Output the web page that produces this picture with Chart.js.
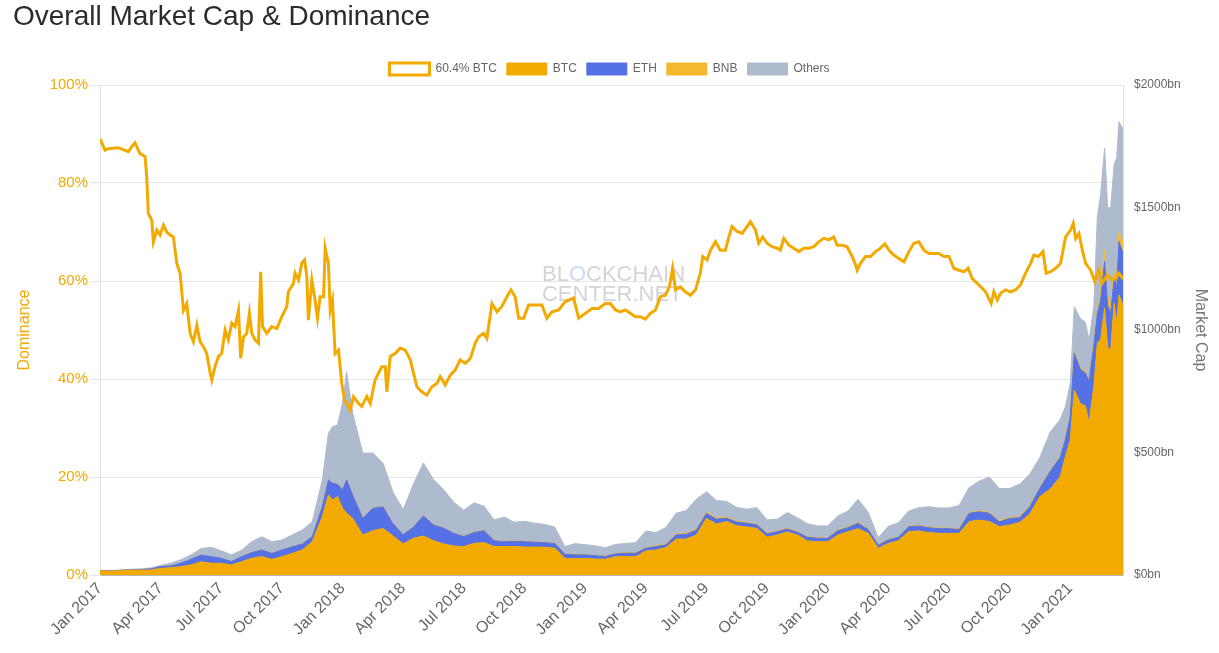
<!DOCTYPE html>
<html><head><meta charset="utf-8">
<script src="https://cdn.jsdelivr.net/npm/chart.js@4.4.1/dist/chart.umd.min.js"></script>
<style>
html,body{margin:0;padding:0;background:#fff;}
#wrap{position:relative;width:1219px;height:653px;overflow:hidden;}
#title{position:absolute;left:13px;top:1px;margin:0;font:normal 28px/30px "Liberation Sans",Arial,sans-serif;color:#2b2b2b;white-space:nowrap;}
canvas{position:absolute;left:0;top:0;}
</style></head><body>
<div id="wrap"><canvas id="c" width="1219" height="653" style="width:1219px;height:653px"></canvas><h1 id="title">Overall Market Cap &amp; Dominance</h1></div>
<script>
// time values are months since 2017-01-01
const capMonths = [0,0.5,1,1.5,2,2.5,3,3.5,4,4.5,5,5.5,6,6.5,7,7.5,8,8.5,9,9.5,10,10.5,11,
  11.3,11.5,11.75,12,12.2,12.5,
  13,13.5,14,14.5,15,15.5,16,16.5,17,17.5,
  18,18.5,19,19.5,20,20.5,21,21.5,22,22.5,
  23,23.5,24,24.5,25,25.5,26,26.5,27,27.5,
  28,28.5,29,29.5,30,30.5,31,31.5,32,32.5,
  33,33.5,34,34.5,35,35.5,36,36.5,37,37.5,
  38,38.5,39,39.5,40,40.5,41,41.5,42,42.5,
  43,43.5,44,44.5,45,45.5,46,46.5,47,47.5,
  47.75,48,48.2,48.5,48.75,48.93,49.17,49.34,49.5,49.7,49.85,50,50.17,50.3,50.41,50.61];
// market caps in $bn
const btcCap = [17,15,18,20,20,20,27,30,34,41,54,48,48,41,54,68,75,64,75,88,102,136,238,
  327,306,320,272,252,231,
  163,181,190,159,127,150,159,140,127,118,
  116,129,132,116,116,116,114,114,113,109,
  68,67,67,65,64,75,75,75,98,102,
  112,146,147,163,231,208,218,201,196,190,
  154,163,176,163,139,136,136,163,177,189,
  170,109,129,140,177,180,173,170,170,170,
  218,224,218,197,204,214,249,320,350,400,
  480,550,755,700,690,620,770,946,960,1090,930,918,1109,1027,1143,1100];
const ethCap = [1,1,1,1.5,2,5,7,7,14,23,27,27,20,14,20,23,27,24,27,27,24,20,41,
  61,68,50,75,136,95,
  68,91,88,49,37,45,82,64,64,52,
  41,44,49,24,20,22,22,20,19,20,
  16,15,15,14,12,11,14,14,11,14,
  11,18,19,20,20,20,14,15,15,15,
  14,14,12,12,15,14,14,18,16,22,
  16,12,14,14,20,20,20,19,19,16,
  34,34,34,20,27,20,30,34,72,80,
  70,95,150,140,135,170,170,120,160,190,170,150,100,150,218,215];
const bnbCap = [0,0,0,0,0,0,0,0,0,0,0,0,0,0.1,0.1,0.2,0.2,0.2,0.2,0.2,0.2,0.2,0.3,
  0.5,0.7,1,1.5,2,2,
  1.5,1.5,1.5,1.5,1.5,1.5,1.5,1.5,1.5,1.5,
  1.5,1.5,1.5,1.5,1.5,1.5,1.5,1.5,1.5,1.5,
  1.2,1,1,1,1.5,1.5,2,2,2.5,3,
  3.5,4,4,4.5,5,5,4.5,4,3.5,3,
  3,3,3,3,2.5,2.5,2.5,3,3,3,
  3,2,2,2.5,2.5,2.5,2.5,2.5,2.5,3,
  3,3.5,4,4,4,4,4,4,4.5,5,
  5,6,7,7,7,7,10,16,30,47,40,30,25,27,40,40];
const otherCap = [1.5,1.5,1.5,2,2.5,4,5,11,14,18,27,38,31,27,27,45,54,48,41,48,57,61,109,
  190,231,240,354,440,333,
  265,224,177,128,102,173,215,184,156,125,
  106,120,98,84,99,76,82,76,73,65,
  31,45,41,39,34,37,38,41,68,54,
  68,84,93,122,84,71,64,56,54,67,
  54,48,64,56,53,48,48,57,65,95,
  68,29,54,57,61,72,83,82,82,95,
  102,122,143,132,118,133,129,122,156,150,
  130,130,183,200,200,160,150,380,400,415,360,400,440,500,449,465];

const domMonths = [
  0,0.25,0.41,0.91,1.40,1.57,1.73,1.98,2.23,2.31,
  2.39,2.56,2.64,2.81,2.97,3.14,3.30,3.47,3.63,3.80,
  3.96,4.13,4.29,4.46,4.62,4.79,4.95,5.12,5.28,5.45,
  5.53,5.69,5.86,6.02,6.19,6.35,6.52,6.68,6.85,6.96,
  7.10,7.26,7.39,7.51,7.67,7.84,7.95,8.04,8.25,8.50,
  8.75,8.99,9.24,9.32,9.57,9.65,9.82,9.98,10.12,10.23,
  10.31,10.48,10.64,10.76,10.89,11.06,11.14,11.30,11.39,11.50,
  11.63,11.80,11.96,12.10,12.29,12.38,
  12.54,12.79,12.95,13.20,13.37,13.61,13.78,13.94,14.11,14.19,
  14.36,14.60,14.85,15.10,15.35,15.51,15.68,15.92,16.17,16.42,
  16.67,16.83,17.08,17.33,17.57,17.82,18.07,18.32,18.56,18.73,
  18.98,19.14,19.39,19.64,19.88,20.13,20.33,20.54,20.71,20.96,
  21.20,21.53,21.86,22.11,22.36,22.69,23.02,23.43,23.68,24.01,
  24.34,24.67,25.00,
  25.25,25.50,25.74,25.99,26.24,26.49,26.73,26.98,27.23,27.48,
  27.72,27.97,28.17,28.33,28.47,28.71,28.96,29.21,29.46,29.70,
  29.82,30.03,30.20,30.45,30.69,30.94,31.11,31.27,31.52,31.77,
  32.01,32.18,32.43,32.59,32.79,33.00,33.25,33.50,33.66,33.83,
  34.08,34.32,34.57,34.82,35.07,35.31,35.56,35.81,36.06,36.30,
  36.47,36.72,36.96,37.21,37.38,
  37.46,37.62,37.87,38.12,38.37,38.61,38.83,39.03,39.27,39.52,
  39.77,40.02,40.26,40.51,40.76,41.01,41.25,41.50,41.75,42.00,
  42.24,42.49,42.74,42.95,43.15,43.40,43.65,43.81,44.09,44.22,
  44.39,44.55,44.80,45.05,45.30,45.54,45.79,46.04,46.20,46.42,
  46.65,46.81,47.03,47.28,47.52,47.77,48.02,48.15,48.27,48.43,
  48.60,48.76,49.01,49.21,49.41,49.57,49.83,50.08,50.25,50.41,
  50.61];
// BTC dominance in %
const btcDominance = [
  89,86.7,87,87.2,86.4,87.4,88.2,86,85.4,81.3,
  73.8,72.4,68,70.4,69.4,71.4,70,69.4,69,63.6,
  61.6,54,55.4,49.3,47.6,51,47.6,46.6,45.2,41.2,
  39.8,42.5,44.6,45.2,50,48,51.4,50.7,54,44.2,
  48.6,49.3,53.4,49.3,48,47.3,61.9,50.7,49.3,50.7,
  50.3,52.7,54.8,57.8,59.5,61.6,60.2,63.6,64.3,61,
  52,60.2,56.1,52.4,56.8,56.8,66.7,63.6,54,56.1,
  45.2,45.9,39.1,35.7,34.4,33.7,
  36.4,35,34.4,36.4,35,39.8,41.2,42.5,42.5,37.4,
  44.6,45.2,46.3,45.9,43.9,41.2,38.4,37.4,36.7,38.4,
  39.1,40.5,38.8,40.8,41.8,43.9,43.2,44.2,47.3,48.6,
  49.3,48.3,55.4,53.7,54.8,56.8,58.2,56.8,52.4,52.4,
  55.1,55.1,55.1,52.4,53.7,54.1,55.8,56.5,52.4,53.4,
  54.4,54.4,55.4,
  55.4,54.1,53.7,54.1,53.4,52.7,52.7,52.2,53.4,54.1,
  56.8,57.1,58.8,62.6,58.2,58.8,57.8,57.1,58.2,61.6,
  65,64.3,66.3,68,66.3,66.3,69,71.1,70.1,69.7,
  71.1,72.1,70.4,67.7,69,67.7,67,66.7,66.3,68.7,
  67.3,66.7,66,66.7,66.7,67,68,68.7,68.4,69,
  67.3,67.3,67,65,63.3,
  62.2,63.6,65,65,66,66.7,67.6,66.3,65.3,64.6,
  63.9,66,67.7,68,66.3,65.6,65.6,65.6,65,65,
  62.6,62.2,61.9,62.6,60.5,59.5,58.5,57.8,55.4,57.8,
  56.1,57.5,58.2,57.8,58.2,59.2,61.6,63.6,65.3,65,
  66,61.6,61.9,62.6,63.6,69,70.4,71.8,68.7,69.7,
  66.3,63.6,62.2,59.9,62.2,59.5,61.2,60.2,60.5,61.6,
  60.4];

const tickMonths = [0,3,6,9,12,15,18,21,24,27,30,33,36,39,42,45,48];
const tickLabels = ['Jan 2017','Apr 2017','Jul 2017','Oct 2017','Jan 2018','Apr 2018','Jul 2018','Oct 2018',
  'Jan 2019','Apr 2019','Jul 2019','Oct 2019','Jan 2020','Apr 2020','Jul 2020','Oct 2020','Jan 2021'];
const domLegend = '60.4% BTC';

const C_BTC = '#f2a900', C_ETH = '#5571e6', C_BNB = '#f3ba2f', C_OTH = '#aebacd';

function pts(xs, ys){ const n=Math.min(xs.length, ys.length); const a=[]; for(let i=0;i<n;i++) a.push({x:xs[i], y:ys[i]}); return a; }

Chart.defaults.font.family = '"Liberation Sans", Arial, Helvetica, sans-serif';
Chart.defaults.color = '#666';

const watermark = {
  id: 'watermark',
  beforeDatasetsDraw(chart){
    const {ctx, chartArea:a} = chart;
    ctx.save();
    ctx.font = '22px "Liberation Sans", Arial, sans-serif';
    ctx.textBaseline = 'alphabetic';
    ctx.textAlign = 'left';
    const w = ctx.measureText('BLOCKCHAIN').width;
    const x0 = (a.left + a.right)/2 - w/2 + 2;
    const y1 = a.top + a.height*0.4, y2 = y1 + 20;
    const grey = 'rgba(160,160,160,0.45)';
    ctx.fillStyle = grey;
    ctx.fillText('BL', x0, y1);
    const wBL = ctx.measureText('BL').width;
    ctx.fillStyle = 'rgba(110,150,225,0.35)';
    ctx.fillText('O', x0 + wBL, y1);
    ctx.fillStyle = grey;
    ctx.fillText('CKCHAIN', x0 + wBL + ctx.measureText('O').width, y1);
    ctx.fillText('CENTER.NET', x0, y2);
    ctx.restore();
  }
};

new Chart(document.getElementById('c'), {
  type: 'line',
  data: {
    datasets: [
      { label: domLegend, data: pts(domMonths, btcDominance), yAxisID: 'yDom',
        borderColor: C_BTC, backgroundColor: '#ffffff', borderWidth: 3, pointRadius: 0, fill: false, tension: 0 },
      { label: 'BTC', data: pts(capMonths, btcCap), yAxisID: 'yCap', borderColor: C_BTC, backgroundColor: C_BTC,
        borderWidth: 1, pointRadius: 0, fill: 'origin', tension: 0 },
      { label: 'ETH', data: pts(capMonths, ethCap), yAxisID: 'yCap', borderColor: C_ETH, backgroundColor: C_ETH,
        borderWidth: 1, pointRadius: 0, fill: '-1', tension: 0 },
      { label: 'BNB', data: pts(capMonths, bnbCap), yAxisID: 'yCap', borderColor: C_BNB, backgroundColor: C_BNB,
        borderWidth: 1, pointRadius: 0, fill: '-1', tension: 0 },
      { label: 'Others', data: pts(capMonths, otherCap), yAxisID: 'yCap', borderColor: C_OTH, backgroundColor: C_OTH,
        borderWidth: 1, pointRadius: 0, fill: '-1', tension: 0 }
    ]
  },
  options: {
    responsive: false,
    animation: false,
    layout: { padding: { top: 53, left: 0, right: 0, bottom: 0 } },
    plugins: {
      legend: { display: true, position: 'top',
        labels: { boxWidth: 40, boxHeight: 12, padding: 10, color: '#666', font: { size: 12 } } },
      tooltip: { enabled: false }
    },
    scales: {
      x: { type: 'linear', min: 0, max: capMonths[capMonths.length-1], bounds: 'data',
        grid: { display: false },
        border: { display: true, color: '#b8b8b8' },
        afterBuildTicks: s => { s.ticks = tickMonths.map(v => ({ value: v })); },
        afterFit: s => { s.height = 78; },
        ticks: { autoSkip: false, minRotation: 45, maxRotation: 45, padding: -4, color: '#666', font: { size: 16 },
          callback: v => { const i = tickMonths.indexOf(v); return i >= 0 ? tickLabels[i] : ''; } } },
      yDom: { type: 'linear', position: 'left', min: 0, max: 100,
        grid: { color: '#e6e6e6', tickLength: 10 },
        border: { color: '#e0e0e0' },
        afterFit: s => { s.width = 100; },
        ticks: { stepSize: 20, padding: 2, color: C_BTC, font: { size: 15 }, callback: v => v + '%' },
        title: { display: true, text: 'Dominance', color: C_BTC, font: { size: 16 }, padding: { top: 15, bottom: 4 } } },
      yCap: { type: 'linear', position: 'right', min: 0, max: 2000, stacked: true,
        grid: { drawOnChartArea: false, drawTicks: false },
        border: { color: '#e0e0e0' },
        afterFit: s => { s.width = 96; },
        ticks: { stepSize: 500, padding: 11, color: '#666', font: { size: 12 }, callback: v => '$' + v + 'bn' },
        title: { display: true, text: 'Market Cap', color: '#777', font: { size: 16 }, padding: { top: 9, bottom: 4 } } }
    }
  },
  plugins: [watermark]
});
</script>
</body></html>
